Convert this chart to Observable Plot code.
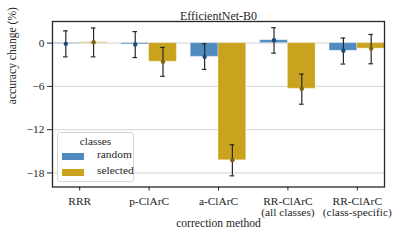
<!DOCTYPE html>
<html><head><meta charset="utf-8">
<script src="https://cdn.jsdelivr.net/npm/d3@7"></script>
<script src="https://cdn.jsdelivr.net/npm/@observablehq/plot@0.6"></script>
<style>
body{margin:0;background:#fff;}
#wrap{position:relative;width:398px;height:240px;font-family:"Times New Roman","Liberation Serif","DejaVu Serif",serif;color:#262626;}
#wrap svg, #wrap svg text{font-family:"Times New Roman","Liberation Serif","DejaVu Serif",serif !important;}
.legend{position:absolute;left:57px;top:132px;width:77px;height:50px;border:1px solid #d6d6d6;border-radius:3px;background:rgba(255,255,255,0.85);box-sizing:border-box;font-size:11.4px;}
.legend .t{position:absolute;left:0;width:100%;top:2px;text-align:center;}
.legend .row{position:absolute;left:4px;}
.legend .sw{position:absolute;left:0;width:22px;height:7px;}
.legend .lab{position:absolute;left:35px;white-space:nowrap;}
</style></head><body><div id="wrap"></div>
<script>
const methods = ["RRR", "p-ClArC", "a-ClArC", "RR-ClArC\n(all classes)", "RR-ClArC\n(class-specific)"];
const classes = ["random", "selected"];
const randomMean = [-0.1, -0.18, -1.9, 0.4, -1.06];
const randomLo   = [-1.9, -2.0, -3.65, -1.39, -2.9];
const randomHi   = [1.7, 1.6, -0.1, 2.14, 0.7];
const selectedMean = [0.12, -2.58, -16.24, -6.33, -0.76];
const selectedLo   = [-1.9, -4.6, -18.4, -8.47, -2.86];
const selectedHi   = [2.1, -0.6, -14.1, -4.3, 1.2];
const yTicks = [0, -6, -12, -18];
const titleText = "EfficientNet-B0";
const xLabel = "correction method";
const yLabel = "accuracy change (%)";
const legendTitle = "classes";

const fills = {random: "#4f8bbf", selected: "#c9a31d"};
const dotFills = {random: "#1d4a78", selected: "#7f6410"};

const data = [];
methods.forEach((m, i) => {
  data.push({i, method: m, cls: "random", mean: randomMean[i], lo: randomLo[i], hi: randomHi[i]});
  data.push({i, method: m, cls: "selected", mean: selectedMean[i], lo: selectedLo[i], hi: selectedHi[i]});
});

const groupWidth = 0.8;
const bw = groupWidth / classes.length;
const xc = d => d.i + (classes.indexOf(d.cls) - (classes.length - 1) / 2) * bw;
const capHalf = 0.033;
const fmt = d => d < 0 ? "\u2212" + Math.abs(d) : String(d);
const serif = '"Times New Roman", "Liberation Serif", "DejaVu Serif", serif';

const marks = [
  Plot.gridY(yTicks, {stroke: "#dcdcdc", strokeOpacity: 1, strokeWidth: 1.3})
];
for (const c of classes) {
  const sub = data.filter(d => d.cls === c);
  marks.push(Plot.rectY(sub, {x1: d => xc(d) - bw / 2, x2: d => xc(d) + bw / 2, y1: 0, y2: "mean", fill: fills[c], stroke: "#ffffff", strokeOpacity: 0.35, strokeWidth: 1}));
}
marks.push(
  Plot.ruleX(data, {x: xc, y1: "lo", y2: "hi", stroke: "#262626", strokeWidth: 1.2}),
  Plot.ruleY(data, {y: "lo", x1: d => xc(d) - capHalf, x2: d => xc(d) + capHalf, stroke: "#262626", strokeWidth: 1.2}),
  Plot.ruleY(data, {y: "hi", x1: d => xc(d) - capHalf, x2: d => xc(d) + capHalf, stroke: "#262626", strokeWidth: 1.2})
);
for (const c of classes) {
  marks.push(Plot.dot(data.filter(d => d.cls === c), {x: xc, y: "mean", r: 2.2, fill: dotFills[c]}));
}
marks.push(
  Plot.frame({stroke: "#262626", strokeWidth: 1.3}),
  Plot.axisX(d3.range(methods.length), {tickFormat: i => methods[i], tickSize: 4, tickPadding: 5, label: null, stroke: "#262626", lineHeight: 1.05, fontFamily: serif}),
  Plot.axisY(yTicks, {tickFormat: fmt, tickSize: 5, tickPadding: 3, label: null, stroke: "#262626", fontFamily: serif}),
  Plot.text([titleText], {text: d => d, frameAnchor: "top", dy: -10, fontSize: 12, fill: "#262626", fontFamily: serif}),
  Plot.text([xLabel], {text: d => d, frameAnchor: "bottom", dy: 40, fontSize: 11.6, fill: "#262626", fontFamily: serif}),
  Plot.text([yLabel], {text: d => d, frameAnchor: "left", dx: -40, rotate: -90, fontSize: 11.6, fill: "#262626", fontFamily: serif})
);

const chart = Plot.plot({
  width: 398, height: 240,
  marginLeft: 52, marginRight: 14, marginTop: 21, marginBottom: 53.5,
  style: {fontFamily: serif, fontSize: "11.4px", color: "#262626", background: "#fff"},
  x: {domain: [-0.392, 4.392]},
  y: {domain: [-19.95, 3.0]},
  marks
});
const wrap = document.getElementById("wrap");
wrap.appendChild(chart);

const lg = document.createElement("div");
lg.className = "legend";
let html = `<div class="t">${legendTitle}</div>`;
classes.forEach((c, k) => {
  const top = 19 + k * 15.5;
  html += `<div class="row" style="top:${top}px"><div class="sw" style="top:1px;background:${fills[c]}"></div><div class="lab" style="top:-4px">${c}</div></div>`;
});
lg.innerHTML = html;
wrap.appendChild(lg);
</script></body></html>
